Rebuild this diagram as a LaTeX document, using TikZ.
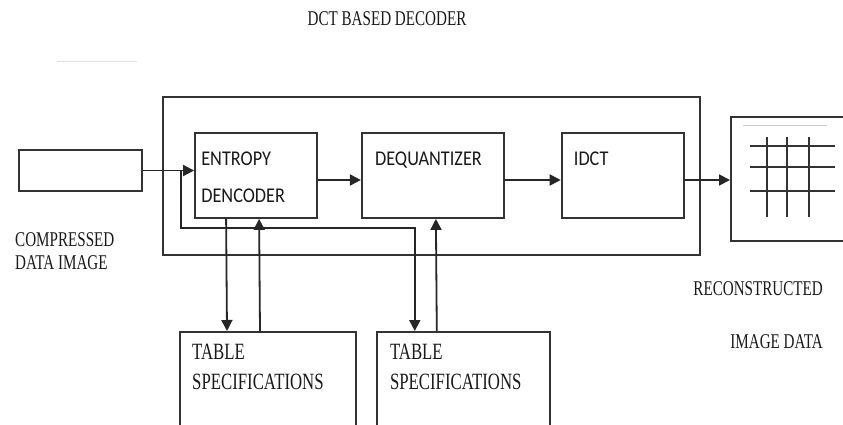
\documentclass[tikz,border=0pt]{standalone}
\usepackage{fontspec}
\setmainfont{Liberation Serif}[FakeStretch=0.72]
\newfontfamily\boxfont{Carlito}[FakeStretch=0.87]
\usetikzlibrary{positioning,arrows.meta}

\begin{document}
\begin{tikzpicture}[
  x=1pt, y=-1pt,
  block/.style={rectangle, draw=black!80, line width=1.8pt, inner sep=0pt},
  flow/.style={draw=black!85, line width=1.8pt, -{Triangle[length=11pt,width=11pt]}},
  serif/.style={inner sep=0pt, align=left, text=black!90,
    font=\fontsize{21}{23}\selectfont},
  boxtext/.style={inner sep=0pt, align=left, text=black!90,
    font=\boxfont\fontsize{21}{37}\selectfont},
  grid line/.style={draw=black!80, line width=1.8pt},
]
  \useasboundingbox (0,0) rectangle (843,425);
  \clip (0,0) rectangle (843,425);

  % Title
  \node[serif] (title) at (387,19) {DCT BASED DECODER};
  \draw[black!12, line width=1pt] (57,62) -- (137,62);

  % Blocks
  \node[block, minimum width=537pt, minimum height=158pt] (decoder) at (431.5,176) {};
  \node[block, minimum width=122pt, minimum height=85pt,
    below right=36pt and 32pt of decoder.north west] (entropy) {};
  \node[block, minimum width=142pt, minimum height=85pt, right=43pt of entropy] (dequant) {};
  \node[block, minimum width=122pt, minimum height=85pt, right=56pt of dequant] (idct) {};
  \node[block, minimum width=123pt, minimum height=41pt] (input) at (80.5,170.5) {};
  \node[block, minimum width=130pt, minimum height=124pt, anchor=west] (output) at (730,179) {};
  \node[block, minimum width=176pt, minimum height=110pt, anchor=north west] (table1) at (179,331) {};
  \node[block, minimum width=173pt, minimum height=110pt, right=19pt of table1] (table2) {};

  % Block texts
  \node[boxtext, below right=20pt and 7pt of entropy.north west] (entropy-text) {ENTROPY\\DENCODER};
  \node[boxtext, below right=20pt and 14pt of dequant.north west] (dequant-text) {DEQUANTIZER};
  \node[boxtext, below right=20pt and 13pt of idct.north west] (idct-text) {IDCT};
  \node[serif, font=\fontsize{23.3}{30}\selectfont,
    below right=13pt and 13pt of table1.north west] (table1-text) {TABLE\\SPECIFICATIONS};
  \node[serif, font=\fontsize{23.3}{30}\selectfont,
    below right=13pt and 14pt of table2.north west] (table2-text) {TABLE\\SPECIFICATIONS};

  % Outside labels
  \node[serif, anchor=north west] (compressed) at (15,232) {COMPRESSED\\DATA IMAGE};
  \node[serif, anchor=north east, align=right] (recon) at (823,281) {RECONSTRUCTED\\[30pt]IMAGE DATA};

  % Picture grid in the output
  \begin{scope}[shift={(output.north west)}]
    \draw[black!20, line width=1pt] (13,9) -- (97,9);
    \foreach \gy in {30,51,75}
      \draw[grid line] (20,\gy) -- (105,\gy);
    \foreach \gx in {37,57,79}
      \draw[grid line] (\gx,21) -- (\gx,101);
  \end{scope}

  % Connections
  \coordinate (row) at (0,180);
  \coordinate (bus) at (0,228);
  \coordinate (split) at ([xshift=38pt]input.east);
  \draw[flow] (input.east) -- (input.east -| entropy.west);
  \draw[flow] (split) -- (split |- bus) -| ([xshift=39pt]table2.north west);
  \draw[flow] (entropy.east |- row) -- (dequant.west |- row);
  \draw[flow] (dequant.east |- row) -- (idct.west |- row);
  \draw[flow] (idct.east |- row) -- (output.west |- row);
  \draw[flow] ([xshift=32pt]entropy.south west) -- ([xshift=48pt]table1.north west);
  \draw[flow] ([xshift=81pt]table1.north west) -- ([xshift=65pt]entropy.south west);
  \draw[flow] ([xshift=61pt]table2.north west) -- ([xshift=75pt]dequant.south west);
\end{tikzpicture}
\end{document}
